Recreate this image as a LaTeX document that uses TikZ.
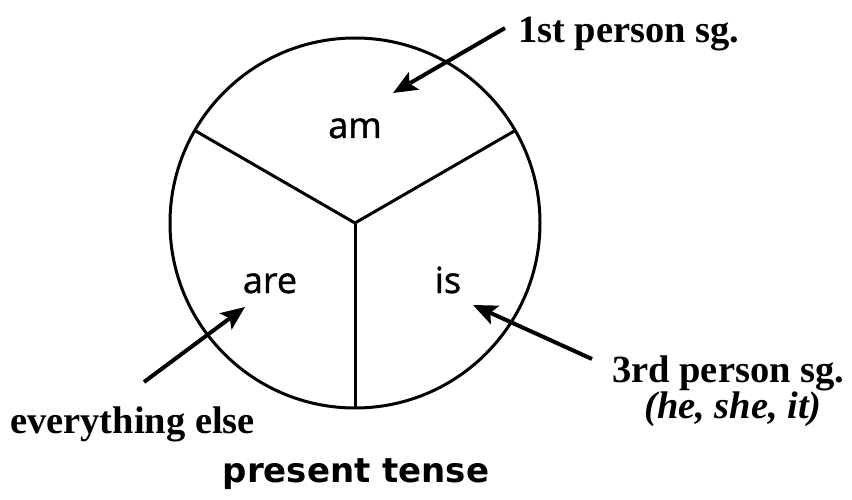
\documentclass[tikz,border=0pt]{standalone}
\usepackage{fontspec}
\setmainfont{Liberation Serif}
\newfontfamily\labfont[FakeBold=1.2]{Open Sans}
\newfontfamily\titfont{DejaVu Sans}
\usetikzlibrary{arrows.meta}
\tikzset{
  seg/.style={line width=3pt},
  pointer/.style={line width=4pt,-{Stealth[length=24pt,width=20pt,inset=5pt]}},
  serif/.style={inner sep=0pt,font=\fontsize{38.5}{42}\selectfont\bfseries},
  sans/.style={inner sep=0pt,anchor=base,font=\labfont\fontsize{36}{40}\selectfont},
}
\begin{document}
\begin{tikzpicture}[x=1pt,y=-1pt]
\useasboundingbox (0,0) rectangle (852,500);
\coordinate (c) at (355,223);
\draw[seg] (c) circle[radius=185];
\path (c) ++(210:185) coordinate (pl) (c) ++(330:185) coordinate (pr) (c) ++(90:185) coordinate (pb);
\draw[seg] (c) -- (pl);
\draw[seg] (c) -- (pr);
\draw[seg] (c) -- (pb);
\node[sans] (am) at (355,138) {am};
\node[sans] (are) at (270,293) {are};
\node[sans] (is) at (448,293) {is};
\node[serif,anchor=base west] (first) at (518,43) {1st person sg.};
\node[serif,anchor=base west] (third) at (612,382) {3rd person sg.};
\node[serif,anchor=base,font=\fontsize{38.5}{42}\selectfont\bfseries\itshape] (pron) at (733,418) {(he, she, it)};
\node[serif,anchor=base west] (else) at (10,433) {everything else};
\node[inner sep=0pt,anchor=base,font=\titfont\bfseries\fontsize{34}{38}\selectfont] (title) at (356,482) {present tense};
\coordinate (s1) at (505,28);
\coordinate (t1) at (393,93);
\coordinate (s2) at (144,382);
\coordinate (t2) at (245,307);
\coordinate (s3) at (592,359);
\coordinate (t3) at (473,305);
\draw[pointer] (s1) -- (t1);
\draw[pointer] (s2) -- (t2);
\draw[pointer] (s3) -- (t3);
\end{tikzpicture}
\end{document}
